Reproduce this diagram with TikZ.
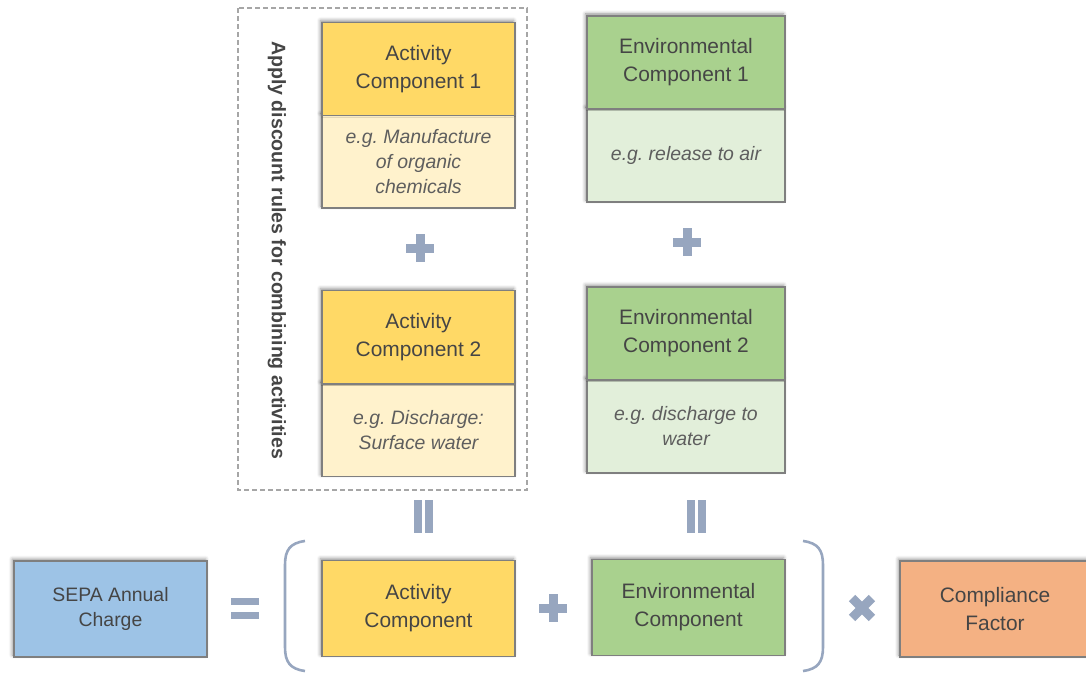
\documentclass[tikz,border=0pt]{standalone}
\usepackage{fontspec}
\setmainfont{Liberation Sans}
\usetikzlibrary{shadows.blur}
\frenchspacing
\definecolor{actH}{HTML}{FFD966}
\definecolor{actB}{HTML}{FFF2CC}
\definecolor{envH}{HTML}{A9D18E}
\definecolor{envB}{HTML}{E2EFDA}
\definecolor{sepa}{HTML}{9DC3E6}
\definecolor{comp}{HTML}{F4B183}
\definecolor{edgec}{HTML}{7F7F7F}
\definecolor{txt}{HTML}{454545}
\definecolor{itxt}{HTML}{5E5E5E}
\definecolor{sym}{HTML}{97A6BF}
\definecolor{dashc}{HTML}{A6A6A6}
\tikzset{
  cbox/.style={draw=edgec, line width=1.2bp, inner sep=0pt, align=center,
    text=txt, font=\fontsize{21}{28}\selectfont,
    blur shadow={shadow xshift=-1.5bp, shadow yshift=2bp, shadow blur radius=3.5bp, shadow opacity=45}},
  ebody/.style={cbox, text=itxt, font=\fontsize{19.5}{25}\selectfont\itshape},
  plussign/.pic={\fill[sym] (-14,-4.5) rectangle (14,4.5); \fill[sym] (-4.5,-14) rectangle (4.5,14);},
}
\begin{document}
\begin{tikzpicture}[x=1bp,y=-1bp]
\useasboundingbox (0,0) rectangle (1086,673);
% dashed grouping frame
\draw[dashc, line width=1.3bp, dash pattern=on 5bp off 3bp] (238,8) rectangle (527,490);
\node[rotate=-90, text=txt, font=\fontsize{19.6}{22}\selectfont\bfseries] (rule) at (277,250) {Apply discount rules for combining activities};
% activity component 1
\node[ebody, fill=actB, minimum width=193bp, minimum height=92.5bp] (a1b) at (418.5,161.75) {e.g. Manufacture\\of organic\\chemicals};
\node[cbox, fill=actH, minimum width=193bp, minimum height=93bp] (a1h) at (418.5,69) {Activity\\Component 1};
% activity component 2
\node[ebody, fill=actB, minimum width=193bp, minimum height=92.5bp] (a2b) at (418.5,430.25) {e.g. Discharge:\\Surface water};
\node[cbox, fill=actH, minimum width=193bp, minimum height=93.5bp] (a2h) at (418.5,337.25) {Activity\\Component 2};
% environmental component 1
\node[ebody, fill=envB, minimum width=198bp, minimum height=93bp] (e1b) at (686,155.5) {e.g. release to air};
\node[cbox, fill=envH, minimum width=198bp, minimum height=93bp] (e1h) at (686,62.5) {Environmental\\Component 1};
% environmental component 2
\node[ebody, fill=envB, minimum width=198bp, minimum height=93bp] (e2b) at (686,426.5) {e.g. discharge to\\water};
\node[cbox, fill=envH, minimum width=198bp, minimum height=93bp] (e2h) at (686,333.5) {Environmental\\Component 2};
% bottom row
\node[cbox, fill=sepa, minimum width=193bp, minimum height=96bp, font=\fontsize{19.5}{25}\selectfont] (sepa) at (110.5,609) {SEPA Annual\\Charge};
\node[cbox, fill=actH, minimum width=193bp, minimum height=96bp] (act) at (418.5,608.5) {Activity\\Component};
\node[cbox, fill=envH, minimum width=193bp, minimum height=96bp] (env) at (688.5,607.5) {Environmental\\Component};
\node[cbox, fill=comp, minimum width=190bp, minimum height=96bp] (cf) at (995,609) {Compliance\\Factor};
% plus signs
\pic at (420,248) {plussign};
\pic at (687,242) {plussign};
\pic at (553,608) {plussign};
\pic[rotate=45] at (862,608) {plussign};
% equals
\fill[sym] (231,598) rectangle (259,604.5);
\fill[sym] (231,612) rectangle (259,618.5);
% vertical equals
\fill[sym] (413.5,500) rectangle (421.5,533);
\fill[sym] (424.5,500) rectangle (432.5,533);
\fill[sym] (686.5,500) rectangle (694.5,533);
\fill[sym] (697.5,500) rectangle (705.5,533);
% brackets
\draw[sym, line width=2.6bp] (305,541) .. controls (290,543) and (285,550) .. (285,565) -- (285,647) .. controls (285,662) and (290,669) .. (305,671);
\draw[sym, line width=2.6bp] (803,541) .. controls (818,543) and (823,550) .. (823,565) -- (823,647) .. controls (823,662) and (818,669) .. (803,671);
\end{tikzpicture}
\end{document}
